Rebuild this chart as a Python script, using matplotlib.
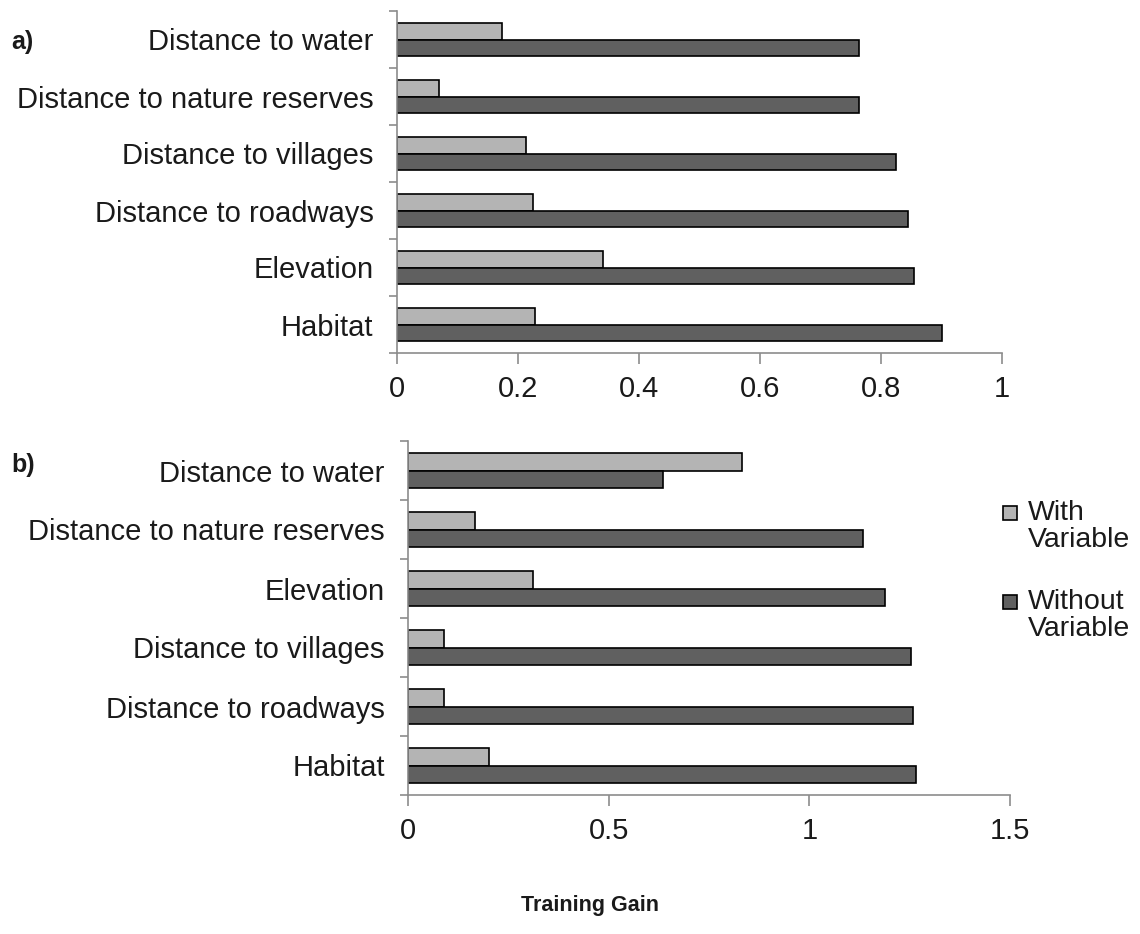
import matplotlib
matplotlib.use("Agg")
import matplotlib.pyplot as plt
import numpy as np
from matplotlib.patches import Rectangle

# Panel a) variables and training gains
vars_a = ["Distance to water", "Distance to nature reserves", "Distance to villages",
          "Distance to roadways", "Elevation", "Habitat"]
with_a = [0.174, 0.070, 0.213, 0.225, 0.340, 0.228]
without_a = [0.764, 0.764, 0.825, 0.845, 0.855, 0.900]
xticks_a = [0, 0.2, 0.4, 0.6, 0.8, 1]
xlabels_a = ["0", "0.2", "0.4", "0.6", "0.8", "1"]

# Panel b) variables and training gains
vars_b = ["Distance to water", "Distance to nature reserves", "Elevation",
          "Distance to villages", "Distance to roadways", "Habitat"]
with_b = [0.832, 0.165, 0.311, 0.088, 0.088, 0.201]
without_b = [0.636, 1.134, 1.188, 1.252, 1.257, 1.266]
xticks_b = [0, 0.5, 1, 1.5]
xlabels_b = ["0", "0.5", "1", "1.5"]

series_names = ["With\nVariable", "Without\nVariable"]
LIGHT = "#b4b4b4"
DARK = "#606060"
AXIS = "#8c8c8c"
TEXT = "#1a1a1a"
FS_CAT = 21
FS_TICK = 21

plt.rcParams["font.family"] = "Liberation Sans"

W, H = 1140, 934
fig = plt.figure(figsize=(W / 100, H / 100), dpi=100)


def fx(px):
    return px / W


def fy(py):
    return 1 - py / H


def draw_panel(rect, names, w, wo, ticks, labels):
    ax = fig.add_axes(rect)
    n = len(names)
    y = np.arange(n)
    h = 0.29
    ax.barh(y - h / 2, w, height=h, color=LIGHT, edgecolor="black", linewidth=1.2)
    ax.barh(y + h / 2, wo, height=h, color=DARK, edgecolor="black", linewidth=1.2)
    ax.set_ylim(n - 0.5, -0.5)
    ax.set_xlim(ticks[0], ticks[-1])
    # boundary ticks on the category axis, labels centred between them
    ax.set_yticks(np.arange(n + 1) - 0.5)
    ax.set_yticklabels([])
    ax.set_yticks(y, minor=True)
    ax.set_yticklabels(names, minor=True, fontsize=FS_CAT, color=TEXT)
    ax.tick_params(axis="y", which="minor", length=0, pad=17)
    ax.tick_params(axis="y", which="major", length=6, width=1.2, color=AXIS, direction="out")
    ax.set_xticks(ticks)
    ax.set_xticklabels(labels, fontsize=FS_TICK, color=TEXT)
    ax.tick_params(axis="x", length=8, width=1.2, color=AXIS, direction="out", pad=8)
    for s in ("top", "right"):
        ax.spines[s].set_visible(False)
    for s in ("left", "bottom"):
        ax.spines[s].set_color(AXIS)
        ax.spines[s].set_linewidth(1.2)
    return ax


ax_a = draw_panel([fx(397), fy(353), fx(605), 342 / H],
                  vars_a, with_a, without_a, xticks_a, xlabels_a)
ax_b = draw_panel([fx(408.4), fy(795), fx(601.6), 354 / H],
                  vars_b, with_b, without_b, xticks_b, xlabels_b)

fig.text(fx(11), fy(42), "a)", fontsize=18, fontweight="bold", va="center", color=TEXT)
fig.text(fx(11), fy(465), "b)", fontsize=18, fontweight="bold", va="center", color=TEXT)
fig.text(fx(590), fy(906), "Training Gain", fontsize=15.5, fontweight="bold",
         ha="center", va="center", color=TEXT)

# legend: swatch aligned with the first line of each two-line label
legend_rows = [(LIGHT, 513), (DARK, 602)]
for (color, yc), name in zip(legend_rows, series_names):
    fig.add_artist(Rectangle((fx(1003), fy(yc + 7)), 14 / W, 14 / H,
                             transform=fig.transFigure, facecolor=color,
                             edgecolor="black", linewidth=1.2))
    fig.text(fx(1028), fy(yc - 13), name, fontsize=20.5, va="top", ha="left",
             linespacing=1.05, color=TEXT)

fig.savefig("out.png", dpi=100)
